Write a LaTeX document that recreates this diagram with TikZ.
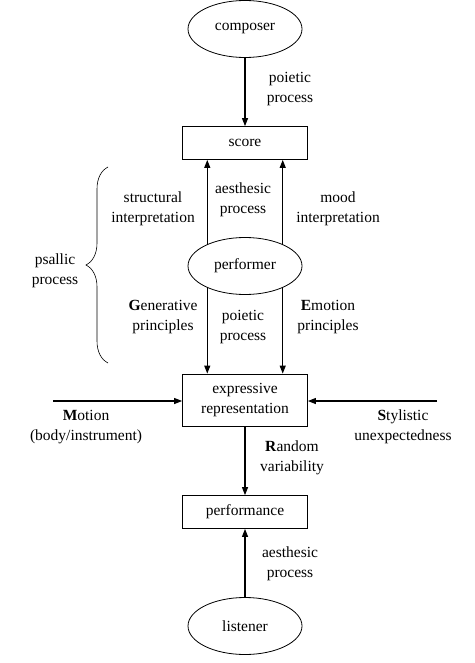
\documentclass[tikz,border=0pt]{standalone}
\usepackage{fontspec}
\setmainfont{Liberation Serif}
\usetikzlibrary{shapes.geometric,arrows.meta,decorations.pathreplacing}
\tikzstyle{every node}=[font=\fontsize{15.5}{20}\selectfont]
\tikzstyle{agent}=[ellipse, draw, minimum width=114pt, minimum height=57pt, inner sep=0pt]
\tikzstyle{stage}=[rectangle, draw, minimum width=125pt, inner sep=0pt, align=center]
\tikzstyle{lbl}=[align=center, inner sep=0pt]
\tikzstyle{arr}=[-{Triangle[length=8pt,width=6pt]}, line width=1.1pt]

\begin{document}
\begin{tikzpicture}[x=1pt, y=-1pt, line width=0.8pt]
\useasboundingbox (0,0) rectangle (474,663);
% Agents
    \node[agent] (composer) at (245,29) {composer};
    \node[agent] (performer) at (245,266) {performer};
    \node[agent] (listener) at (245,626) {listener};
% Stages
    \node[stage, minimum height=33pt] (score) at (245,143) {score};
    \node[stage, minimum height=52pt] (expr) at (245,400) {expressive\\representation};
    \node[stage, minimum height=33pt] (perf) at (245,512) {performance};
% Free ends of side inputs
    \coordinate (motionend) at (53,401);
    \coordinate (styleend) at (437,401);
% Processes
    \draw[arr] (composer) -- (score);
    \draw[arr] (performer.150) -- (performer.150 |- score.south);
    \draw[arr] (performer.30) -- (performer.30 |- score.south);
    \draw[arr] (performer.210) -- (performer.210 |- expr.north);
    \draw[arr] (performer.330) -- (performer.330 |- expr.north);
    \draw[arr] (motionend) -- (motionend -| expr.west);
    \draw[arr] (styleend) -- (styleend -| expr.east);
    \draw[arr] (expr) -- (perf);
    \draw[arr] (listener) -- (perf);
% Brace
    \draw[line width=0.6pt, decorate, decoration={brace, amplitude=22pt}] (108,363) -- (108,167);
% Labels
    \node[lbl] (poietictop) at (290,89) {poietic\\process};
    \node[lbl] (structural) at (153,209) {structural\\interpretation};
    \node[lbl] (aesthmid) at (243,200) {aesthesic\\process};
    \node[lbl] (mood) at (338,209) {mood\\interpretation};
    \node[lbl] (psallic) at (55,271) {psallic\\process};
    \node[lbl] (generative) at (163,317) {\textbf{G}enerative\\principles};
    \node[lbl] (poieticmid) at (243,327) {poietic\\process};
    \node[lbl] (emotion) at (328,317) {\textbf{E}motion\\principles};
    \node[lbl] (motion) at (86,427) {\textbf{M}otion\\(body/instrument)};
    \node[lbl] (stylistic) at (403,427) {\textbf{S}tylistic\\unexpectedness};
    \node[lbl] (random) at (292,458) {\textbf{R}andom\\variability};
    \node[lbl] (aesthbot) at (290,564) {aesthesic\\process};
\end{tikzpicture}
\end{document}
